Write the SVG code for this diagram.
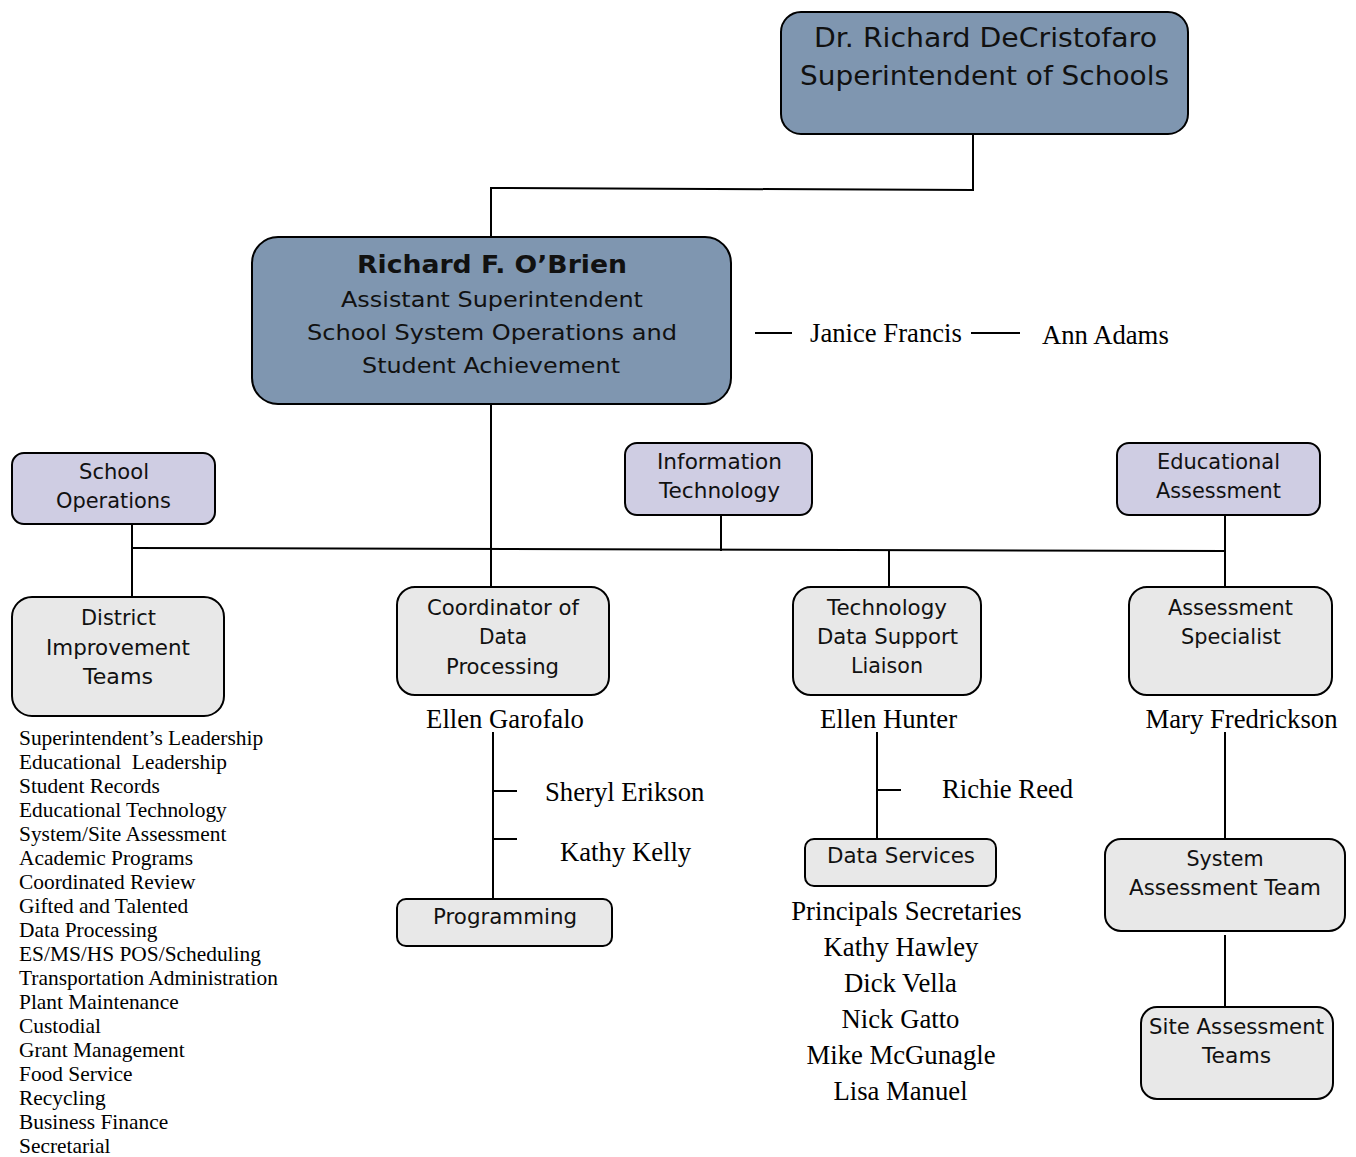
<svg xmlns="http://www.w3.org/2000/svg" width="1356" height="1157" viewBox="0 0 1356 1157">
<style>
.box{stroke:#000;stroke-width:2}
.blue{fill:#7f96b0}
.purple{fill:#cfcde3}
.gray{fill:#e8e8e8}
.s{font-family:"DejaVu Sans","Liberation Sans",sans-serif;fill:#111;text-anchor:middle;font-size:20.5px}
.r{font-family:"Liberation Serif","Times New Roman",serif;fill:#000;font-size:26.7px}
.l{font-family:"Liberation Serif","Times New Roman",serif;fill:#000;font-size:21.4px}
.c{text-anchor:middle}
.ln{stroke:#000;stroke-width:2;fill:none}
</style>
<rect width="1356" height="1157" fill="#fff"/>
<g id="connectors">
<polyline class="ln" points="973,134 973,190 491,188 491,237"/>
<line class="ln" x1="491" y1="404" x2="491" y2="587"/>
<line class="ln" x1="755" y1="333" x2="792" y2="333"/>
<line class="ln" x1="971" y1="333" x2="1020" y2="333"/>
<line class="ln" x1="132" y1="548" x2="1225" y2="551"/>
<line class="ln" x1="132" y1="524" x2="132" y2="597"/>
<line class="ln" x1="721" y1="515" x2="721" y2="551"/>
<line class="ln" x1="1225" y1="515" x2="1225" y2="587"/>
<line class="ln" x1="889" y1="551" x2="889" y2="587"/>
<line class="ln" x1="493" y1="732" x2="493" y2="899"/>
<line class="ln" x1="493" y1="791" x2="517" y2="791"/>
<line class="ln" x1="493" y1="839" x2="517" y2="839"/>
<line class="ln" x1="877" y1="732" x2="877" y2="839"/>
<line class="ln" x1="877" y1="790" x2="901" y2="790"/>
<line class="ln" x1="1225" y1="732" x2="1225" y2="839"/>
<line class="ln" x1="1225" y1="935" x2="1225" y2="1007"/>
</g>
<g id="superintendent">
<rect class="box blue" x="781" y="12" width="407" height="122" rx="20"/>
<text class="s" x="985.5" y="47" style="font-size:26px" textLength="343" lengthAdjust="spacingAndGlyphs">Dr. Richard DeCristofaro</text>
<text class="s" x="984.5" y="85" style="font-size:26px" textLength="369" lengthAdjust="spacingAndGlyphs">Superintendent of Schools</text>
</g>
<g id="assistant">
<rect class="box blue" x="252" y="237" width="479" height="167" rx="26"/>
<text class="s" x="492" y="273" style="font-size:25px;font-weight:600" textLength="270" lengthAdjust="spacingAndGlyphs">Richard F. O’Brien</text>
<text class="s" x="492" y="307" style="font-size:22px" textLength="302" lengthAdjust="spacingAndGlyphs">Assistant Superintendent</text>
<text class="s" x="492" y="340" style="font-size:22px" textLength="370" lengthAdjust="spacingAndGlyphs">School System Operations and</text>
<text class="s" x="491" y="373" style="font-size:22px" textLength="258" lengthAdjust="spacingAndGlyphs">Student Achievement</text>
</g>
<g id="janice">
<text class="r" x="810" y="342">Janice Francis</text>
</g>
<g id="ann">
<text class="r" x="1042" y="344">Ann Adams</text>
</g>
<g id="school-operations">
<rect class="box purple" x="12" y="453" width="203" height="71" rx="12"/>
<text class="s" x="114" y="479" textLength="70" lengthAdjust="spacingAndGlyphs">School</text>
<text class="s" x="113.5" y="508" textLength="115" lengthAdjust="spacingAndGlyphs">Operations</text>
</g>
<g id="information-technology">
<rect class="box purple" x="625" y="443" width="187" height="72" rx="12"/>
<text class="s" x="719.5" y="469" textLength="125" lengthAdjust="spacingAndGlyphs">Information</text>
<text class="s" x="719.5" y="498" textLength="121" lengthAdjust="spacingAndGlyphs">Technology</text>
</g>
<g id="educational-assessment">
<rect class="box purple" x="1117" y="443" width="203" height="72" rx="12"/>
<text class="s" x="1218.5" y="469" textLength="123" lengthAdjust="spacingAndGlyphs">Educational</text>
<text class="s" x="1218.5" y="498" textLength="125" lengthAdjust="spacingAndGlyphs">Assessment</text>
</g>
<g id="district-improvement">
<rect class="box gray" x="12" y="597" width="212" height="119" rx="20"/>
<text class="s" x="118.5" y="625" textLength="75" lengthAdjust="spacingAndGlyphs">District</text>
<text class="s" x="118" y="655" textLength="144" lengthAdjust="spacingAndGlyphs">Improvement</text>
<text class="s" x="118" y="684" textLength="70" lengthAdjust="spacingAndGlyphs">Teams</text>
</g>
<g id="district-list">
<text class="l" x="19" y="745">Superintendent’s Leadership</text>
<text class="l" x="19" y="769" xml:space="preserve">Educational  Leadership</text>
<text class="l" x="19" y="793">Student Records</text>
<text class="l" x="19" y="817">Educational Technology</text>
<text class="l" x="19" y="841">System/Site Assessment</text>
<text class="l" x="19" y="865">Academic Programs</text>
<text class="l" x="19" y="889">Coordinated Review</text>
<text class="l" x="19" y="913">Gifted and Talented</text>
<text class="l" x="19" y="937">Data Processing</text>
<text class="l" x="19" y="961">ES/MS/HS POS/Scheduling</text>
<text class="l" x="19" y="985">Transportation Administration</text>
<text class="l" x="19" y="1009">Plant Maintenance</text>
<text class="l" x="19" y="1033">Custodial</text>
<text class="l" x="19" y="1057">Grant Management</text>
<text class="l" x="19" y="1081">Food Service</text>
<text class="l" x="19" y="1105">Recycling</text>
<text class="l" x="19" y="1129">Business Finance</text>
<text class="l" x="19" y="1153">Secretarial</text>
</g>
<g id="coordinator">
<rect class="box gray" x="397" y="587" width="212" height="108" rx="18"/>
<text class="s" x="503" y="615" textLength="152" lengthAdjust="spacingAndGlyphs">Coordinator of</text>
<text class="s" x="503" y="644" textLength="48" lengthAdjust="spacingAndGlyphs">Data</text>
<text class="s" x="502.5" y="674" textLength="113" lengthAdjust="spacingAndGlyphs">Processing</text>
</g>
<g id="ellen-garofalo">
<text class="r c" x="505" y="728">Ellen Garofalo</text>
</g>
<g id="sheryl">
<text class="r" x="545" y="801">Sheryl Erikson</text>
</g>
<g id="kathy-kelly">
<text class="r" x="560" y="861">Kathy Kelly</text>
</g>
<g id="programming">
<rect class="box gray" x="397" y="899" width="215" height="47" rx="9"/>
<text class="s" x="505" y="924" textLength="144" lengthAdjust="spacingAndGlyphs">Programming</text>
</g>
<g id="tech-data-support">
<rect class="box gray" x="793" y="587" width="188" height="108" rx="18"/>
<text class="s" x="887" y="615" textLength="120" lengthAdjust="spacingAndGlyphs">Technology</text>
<text class="s" x="887.5" y="644" textLength="141" lengthAdjust="spacingAndGlyphs">Data Support</text>
<text class="s" x="887" y="673" textLength="72" lengthAdjust="spacingAndGlyphs">Liaison</text>
</g>
<g id="ellen-hunter">
<text class="r c" x="888.5" y="728">Ellen Hunter</text>
</g>
<g id="richie">
<text class="r" x="942" y="798">Richie Reed</text>
</g>
<g id="data-services">
<rect class="box gray" x="805" y="839" width="191" height="47" rx="9"/>
<text class="s" x="901" y="863" textLength="148" lengthAdjust="spacingAndGlyphs">Data Services</text>
</g>
<g id="principals-secretaries">
<text class="r c" x="906.5" y="920">Principals Secretaries</text>
<text class="r c" x="901" y="956">Kathy Hawley</text>
<text class="r c" x="900.5" y="992">Dick Vella</text>
<text class="r c" x="900.5" y="1028">Nick Gatto</text>
<text class="r c" x="901" y="1064">Mike McGunagle</text>
<text class="r c" x="900.5" y="1100">Lisa Manuel</text>
</g>
<g id="assessment-specialist">
<rect class="box gray" x="1129" y="587" width="203" height="108" rx="18"/>
<text class="s" x="1230.5" y="615" textLength="125" lengthAdjust="spacingAndGlyphs">Assessment</text>
<text class="s" x="1231" y="644" textLength="100" lengthAdjust="spacingAndGlyphs">Specialist</text>
</g>
<g id="mary">
<text class="r c" x="1241.5" y="728">Mary Fredrickson</text>
</g>
<g id="system-assessment">
<rect class="box gray" x="1105" y="839" width="240" height="92" rx="16"/>
<text class="s" x="1225" y="866" textLength="77" lengthAdjust="spacingAndGlyphs">System</text>
<text class="s" x="1225" y="895" textLength="192" lengthAdjust="spacingAndGlyphs">Assessment Team</text>
</g>
<g id="site-assessment">
<rect class="box gray" x="1141" y="1007" width="192" height="92" rx="16"/>
<text class="s" x="1236.5" y="1034" textLength="175" lengthAdjust="spacingAndGlyphs">Site Assessment</text>
<text class="s" x="1236.5" y="1063" textLength="69" lengthAdjust="spacingAndGlyphs">Teams</text>
</g>
</svg>
